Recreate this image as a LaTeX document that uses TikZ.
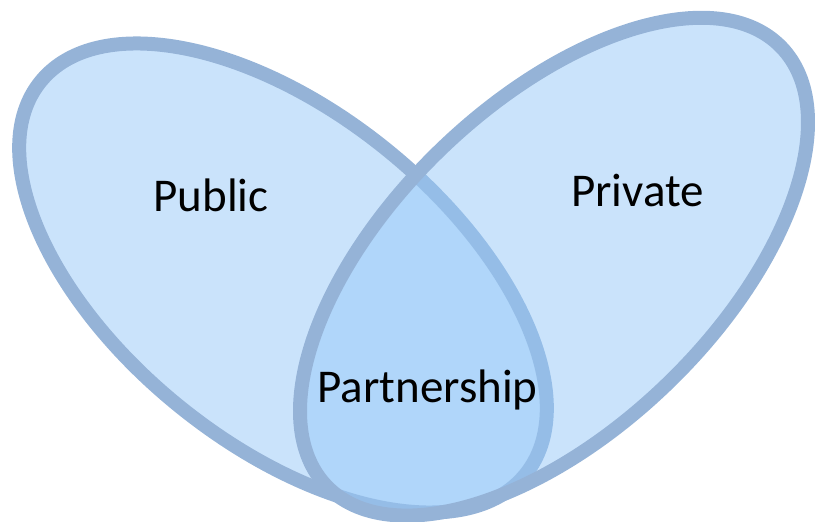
\documentclass[tikz,border=0pt]{standalone}
\usepackage{fontspec}
\setmainfont{Carlito}
\definecolor{ringblue}{RGB}{149,179,215}
\definecolor{setblue}{RGB}{150,200,248}
\begin{document}
\begin{tikzpicture}[x=1pt, y=1pt, line width=14pt,
    set/.style={draw=ringblue, fill=setblue, fill opacity=0.5},
    every node/.style={font=\fontsize{47}{56}\selectfont, anchor=base}]
        \useasboundingbox (0,0) rectangle (815,522);
        \clip (0,0) rectangle (815,522);

        \coordinate (C1) at (283,244);
        \coordinate (C2) at (554,255.3);

        \draw[set, rotate around={-39:(C1)}] (C1) ellipse [x radius=312, y radius=165];
        \draw[set, rotate around={44:(C2)}] (C2) ellipse [x radius=316, y radius=163];

        \node (N1) at (211,310) {Public};
        \node (N2) at (637.5,315) {Private};
        \node (N3) at (427.5,119) {Partnership};
    \end{tikzpicture}
\end{document}
